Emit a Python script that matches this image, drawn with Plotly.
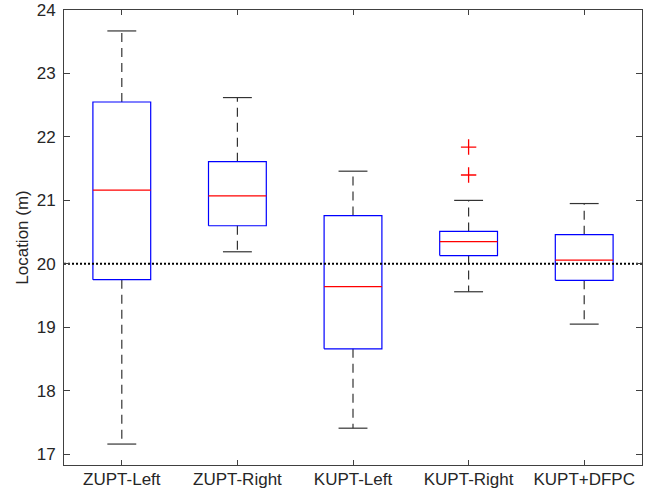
import plotly.graph_objects as go

categories = ["ZUPT-Left", "ZUPT-Right", "KUPT-Left", "KUPT-Right", "KUPT+DFPC"]
lower_whisker = [17.16, 20.19, 17.41, 19.56, 19.05]
q1 = [19.75, 20.60, 18.66, 20.13, 19.74]
median = [21.16, 21.07, 19.64, 20.35, 20.06]
q3 = [22.55, 21.61, 20.76, 20.51, 20.46]
upper_whisker = [23.67, 22.62, 21.46, 21.00, 20.95]
outlier_cat = [4, 4]
outlier_val = [21.84, 21.40]
reference_value = 20.0
y_ticks = [17, 18, 19, 20, 21, 22, 23, 24]

BOX_HALF = 0.25
CAP_HALF = 0.125

pos = list(range(1, len(categories) + 1))

bx, by = [], []
mx, my = [], []
wx, wy = [], []
cx, cy = [], []
for p, lw, a, m, b, uw in zip(pos, lower_whisker, q1, median, q3, upper_whisker):
    bx += [p - BOX_HALF, p + BOX_HALF, p + BOX_HALF, p - BOX_HALF, p - BOX_HALF, None]
    by += [a, a, b, b, a, None]
    mx += [p - BOX_HALF, p + BOX_HALF, None]
    my += [m, m, None]
    wx += [p, p, None, p, p, None]
    wy += [b, uw, None, a, lw, None]
    cx += [p - CAP_HALF, p + CAP_HALF, None, p - CAP_HALF, p + CAP_HALF, None]
    cy += [uw, uw, None, lw, lw, None]

fig = go.Figure()
fig.add_trace(go.Scatter(x=wx, y=wy, mode="lines",
                         line=dict(color="#333333", width=1.2, dash="9px,6px"),
                         hoverinfo="skip", showlegend=False))
fig.add_trace(go.Scatter(x=cx, y=cy, mode="lines",
                         line=dict(color="#333333", width=1.2),
                         hoverinfo="skip", showlegend=False))
fig.add_trace(go.Scatter(x=bx, y=by, mode="lines",
                         line=dict(color="#0000ff", width=1.2),
                         hoverinfo="skip", showlegend=False))
fig.add_trace(go.Scatter(x=mx, y=my, mode="lines",
                         line=dict(color="#ff0000", width=1.2),
                         hoverinfo="skip", showlegend=False))
fig.add_trace(go.Scatter(x=outlier_cat, y=outlier_val, mode="markers",
                         marker=dict(symbol="cross-thin", size=11,
                                     line=dict(color="#ff0000", width=1.3)),
                         hoverinfo="skip", showlegend=False))
fig.add_trace(go.Scatter(x=[0.5, len(categories) + 0.5],
                         y=[reference_value, reference_value], mode="lines",
                         line=dict(color="#000000", width=2, dash="2px,2px"),
                         hoverinfo="skip", showlegend=False))

axis_font = dict(family="Liberation Sans, Arial, sans-serif", size=17, color="#262626")
fig.update_layout(
    width=649, height=498,
    margin=dict(l=64, r=7, t=10, b=33, autoexpand=False),
    paper_bgcolor="white", plot_bgcolor="white",
    font=axis_font,
    xaxis=dict(range=[0.5, len(categories) + 0.5], tickvals=pos, ticktext=categories,
               showgrid=False, zeroline=False, showline=True, linecolor="#404040",
               linewidth=1, mirror="ticks", ticks="inside", ticklen=5,
               tickcolor="#404040", tickfont=axis_font, automargin=False,
               ticklabelstandoff=-1),
    yaxis=dict(range=[16.83, 24.0], tickvals=y_ticks,
               showgrid=False, zeroline=False, showline=True, linecolor="#404040",
               linewidth=1, mirror="ticks", ticks="inside", ticklen=6,
               tickcolor="#404040", tickfont=axis_font, automargin=False,
               ticklabelstandoff=4,
               title=dict(text="Location (m)", font=axis_font, standoff=3)),
)

fig.write_html("out.html", config={"displayModeBar": False},
               post_script="document.body.style.margin='0';document.body.style.overflow='hidden';")
